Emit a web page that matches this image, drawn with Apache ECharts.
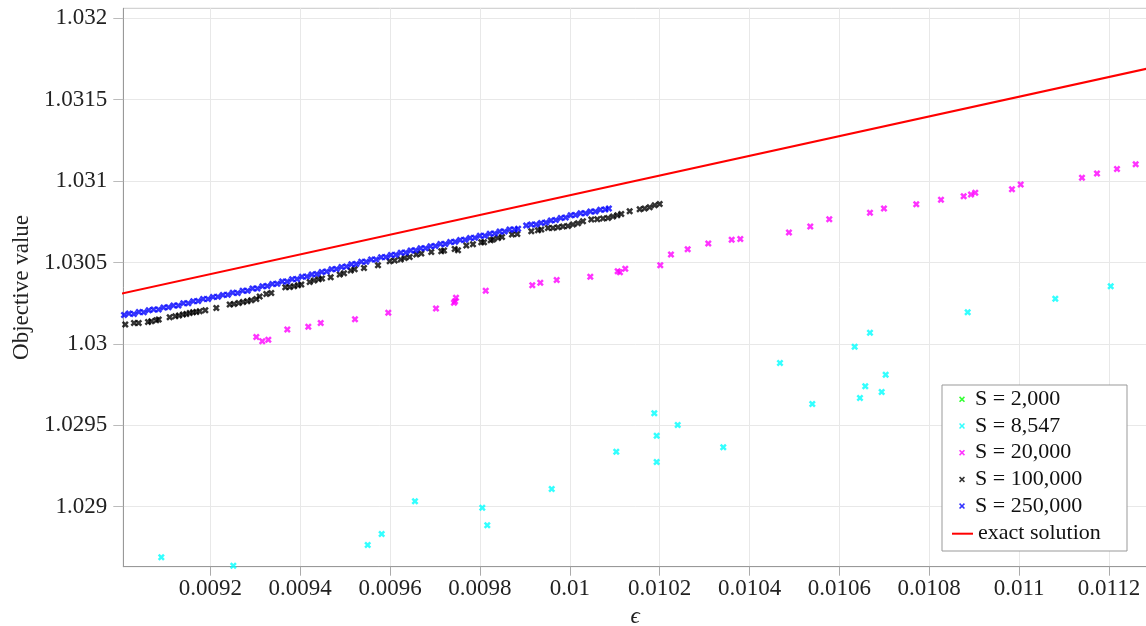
<!DOCTYPE html>
<html><head><meta charset="utf-8">
<script src="https://cdn.jsdelivr.net/npm/echarts@6/dist/echarts.min.js"></script>
<style>html,body{margin:0;padding:0;background:#fff}#c{width:1146px;height:626px}</style>
</head><body><div id="c"></div>
<script>
const seriesNames = ['S = 2,000', 'S = 8,547', 'S = 20,000', 'S = 100,000', 'S = 250,000', 'exact solution'];
const seriesColors = ['#00ff00', '#00ffff', '#ff00ff', '#000000', '#0000ff', '#ff0000'];
const xTicks = [0.0092, 0.0094, 0.0096, 0.0098, 0.01, 0.0102, 0.0104, 0.0106, 0.0108, 0.011, 0.0112];
const yTicks = [1.029, 1.0295, 1.03, 1.0305, 1.031, 1.0315, 1.032];

const s2000 = [];
const s8547 = [[0.009091,1.028689],[0.0092512,1.028638],[0.0095503,1.028765],[0.0095814,1.028833],[0.0096555,1.029033],[0.0098053,1.028994],[0.0098164,1.028886],[0.0099598,1.029109],[0.0101035,1.029337],[0.0101881,1.029574],[0.0101934,1.029435],[0.0101934,1.029275],[0.0102402,1.029502],[0.0103416,1.029365],[0.0104678,1.029883],[0.0105397,1.029631],[0.010634,1.029982],[0.0106681,1.030068],[0.0106458,1.029668],[0.0106576,1.02974],[0.0106941,1.029705],[0.010703,1.02981],[0.0108855,1.030194],[0.0110805,1.030278],[0.0112038,1.030354]];
const s20000 = [[0.0093024,1.030043],[0.0093157,1.030016],[0.0093291,1.030026],[0.0093714,1.030088],[0.0094181,1.030106],[0.0094457,1.030129],[0.009522,1.030151],[0.0095961,1.030191],[0.0097023,1.030217],[0.0097423,1.030252],[0.0097446,1.030262],[0.0097468,1.030283],[0.0098129,1.030327],[0.0099166,1.03036],[0.0099344,1.030375],[0.0099709,1.030393],[0.0100457,1.030413],[0.0101066,1.030446],[0.0101117,1.03044],[0.0101235,1.030461],[0.0102014,1.030483],[0.0102252,1.030549],[0.0102624,1.030581],[0.0103082,1.030616],[0.0103603,1.030639],[0.0103795,1.030645],[0.0104878,1.030684],[0.0105352,1.030721],[0.0105775,1.030765],[0.0106681,1.030805],[0.0106992,1.030831],[0.0107711,1.030857],[0.0108261,1.030885],[0.0108766,1.030907],[0.0108929,1.030917],[0.0109024,1.030928],[0.0109841,1.03095],[0.0110035,1.030979],[0.0111399,1.03102],[0.0111733,1.031046],[0.0112178,1.031075],[0.0112594,1.031103]];
const s100000 = [[0.0090108,1.0301186],[0.0090302,1.030129],[0.0090407,1.030129],[0.0090614,1.0301351],[0.0090687,1.0301388],[0.0090798,1.030145],[0.0090852,1.0301493],[0.0091096,1.0301634],[0.0091221,1.0301695],[0.0091303,1.0301738],[0.0091392,1.03018],[0.0091466,1.0301843],[0.0091542,1.0301904],[0.0091615,1.0301941],[0.0091688,1.0301966],[0.0091764,1.0302002],[0.0091889,1.0302064],[0.0092134,1.0302211],[0.0092432,1.0302414],[0.0092527,1.0302457],[0.0092632,1.0302518],[0.0092728,1.030258],[0.0092823,1.0302617],[0.0092912,1.0302678],[0.0093024,1.0302764],[0.0093099,1.0302905],[0.0093246,1.0303071],[0.0093357,1.0303133],[0.0093669,1.0303477],[0.0093767,1.0303501],[0.0093863,1.0303538],[0.0093952,1.0303599],[0.0094025,1.0303642],[0.0094212,1.0303808],[0.0094308,1.0303888],[0.0094412,1.0303968],[0.0094486,1.0304011],[0.0094679,1.0304091],[0.009488,1.0304257],[0.0094975,1.0304337],[0.0095124,1.0304502],[0.0095213,1.0304582],[0.009542,1.0304668],[0.0095732,1.0304828],[0.0095992,1.0305074],[0.0096104,1.0305117],[0.0096237,1.0305178],[0.0096326,1.0305283],[0.0096437,1.0305344],[0.0096584,1.0305485],[0.0096696,1.0305547],[0.0096918,1.0305651],[0.0097141,1.0305688],[0.0097201,1.0305731],[0.0097439,1.0305835],[0.0097512,1.0305749],[0.0097697,1.0306038],[0.0097846,1.0306118],[0.0098031,1.0306241],[0.0098091,1.0306241],[0.009824,1.0306364],[0.0098291,1.0306407],[0.0098402,1.0306511],[0.0098492,1.0306572],[0.0098714,1.0306714],[0.0098832,1.0306757],[0.0099144,1.0306917],[0.0099293,1.0306978],[0.0099366,1.0307021],[0.0099515,1.0307125],[0.0099626,1.0307125],[0.0099738,1.0307162],[0.0099849,1.0307205],[0.009996,1.0307248],[0.0100071,1.0307328],[0.0100183,1.0307408],[0.0100294,1.030753],[0.0100479,1.0307635],[0.0100612,1.0307653],[0.0100739,1.0307697],[0.0100851,1.030774],[0.0100962,1.030782],[0.0101057,1.0307899],[0.0101146,1.0307985],[0.0101333,1.0308145],[0.0101556,1.0308268],[0.0101667,1.0308311],[0.0101778,1.0308391],[0.010189,1.0308514],[0.0102001,1.03086]];
const s250000 = [[0.009008,1.030178],[0.009019,1.030186],[0.00903,1.030184],[0.009041,1.030196],[0.009052,1.030195],[0.009063,1.030206],[0.009074,1.030211],[0.009085,1.030212],[0.009096,1.030224],[0.009107,1.030225],[0.009118,1.030236],[0.009129,1.030236],[0.00914,1.030249],[0.009151,1.03025],[0.009162,1.030262],[0.009173,1.030263],[0.009184,1.030275],[0.009195,1.030276],[0.009206,1.030288],[0.009217,1.030289],[0.009228,1.030301],[0.009239,1.030302],[0.00925,1.030314],[0.009261,1.030313],[0.009272,1.030327],[0.009283,1.030326],[0.009294,1.03034],[0.009305,1.030341],[0.009316,1.030354],[0.009327,1.030355],[0.009338,1.030368],[0.009349,1.030369],[0.00936,1.030383],[0.009371,1.030384],[0.009382,1.030397],[0.009393,1.030399],[0.009404,1.030412],[0.009415,1.030414],[0.009426,1.030427],[0.009437,1.030429],[0.009448,1.030442],[0.009459,1.030445],[0.00947,1.030458],[0.009481,1.03046],[0.009492,1.030473],[0.009503,1.030476],[0.009514,1.030489],[0.009525,1.030491],[0.009536,1.030504],[0.009547,1.030505],[0.009558,1.030518],[0.009569,1.030519],[0.00958,1.030532],[0.009591,1.030533],[0.009602,1.030546],[0.009613,1.030547],[0.009624,1.03056],[0.009635,1.030561],[0.009646,1.030574],[0.009657,1.030575],[0.009668,1.030587],[0.009679,1.030588],[0.00969,1.0306],[0.009701,1.030602],[0.009712,1.030614],[0.009723,1.030614],[0.009734,1.030626],[0.009745,1.030627],[0.009756,1.030638],[0.009767,1.030639],[0.009778,1.030651],[0.009789,1.030652],[0.0098,1.030664],[0.009811,1.030665],[0.009822,1.030677],[0.009833,1.030678],[0.009844,1.03069],[0.009855,1.03069],[0.009866,1.030702],[0.009877,1.030702],[0.009885,1.030708],[0.009903,1.030727],[0.009914,1.030734],[0.009925,1.030733],[0.009936,1.030742],[0.009947,1.030745],[0.009958,1.030758],[0.009969,1.030761],[0.00998,1.030774],[0.009991,1.030777],[0.010002,1.03079],[0.010013,1.030791],[0.010024,1.030802],[0.010035,1.030802],[0.010046,1.030813],[0.010057,1.030814],[0.010068,1.030824],[0.010079,1.030825],[0.010087,1.030831]];
const exactEps = [0.009, 0.0113];
const exactVal = [1.030308, 1.0317];

const xSym = 'path://M0,2.5L2.5,0L5,2.5L7.5,0L10,2.5L7.5,5L10,7.5L7.5,10L5,7.5L2.5,10L0,7.5L2.5,5Z';
const legendX = 'path://M0,0L0.01,0L0,0.01Z M16,7L15.99,7L16,6.99Z M5,1.6L6.1,0.5L8,2.4L9.9,0.5L11,1.6L9.1,3.5L11,5.4L9.9,6.5L8,4.6L6.1,6.5L5,5.4L6.9,3.5Z';
const legendLine = 'path://M0,0L21,0L21,2L0,2Z';
const FONT = 'Liberation Serif';
const fmt = v => String(+v.toFixed(4));

const scatterSets = [s2000, s8547, s20000, s100000, s250000];
const series = scatterSets.map((d, i) => ({
  name: seriesNames[i], type: 'scatter', data: d, symbol: xSym, symbolSize: 7,
  itemStyle: {color: seriesColors[i]}, z: 2, animation: false
}));
series.push({
  name: seriesNames[5], type: 'line', data: exactEps.map((e, i) => [e, exactVal[i]]),
  symbol: 'none', showSymbol: false, lineStyle: {color: seriesColors[5], width: 2}, itemStyle: {color: seriesColors[5]}, z: 3, animation: false
});

const chart = echarts.init(document.getElementById('c'), null, {renderer: 'canvas'});
chart.setOption({
  animation: false,
  backgroundColor: '#fff',
  grid: {left: 123.3, top: 8.3, right: -1, bottom: 59.3, containLabel: false, outerBoundsMode: 'none',
    show: true, borderColor: '#c8c8c8', borderWidth: 1, backgroundColor: 'transparent'},
  xAxis: {
    type: 'value', min: 0.0090064, max: 0.0112846,
    name: 'ϵ', nameLocation: 'middle', nameGap: 38,
    nameTextStyle: {fontFamily: FONT, fontSize: 23, fontStyle: 'italic', color: '#222'},
    axisLine: {show: true, onZero: false, lineStyle: {color: '#999', width: 1}},
    axisTick: {show: true, inside: false, length: 9, customValues: xTicks, lineStyle: {color: '#aaa'}},
    axisLabel: {customValues: xTicks, formatter: fmt, fontFamily: FONT, fontSize: 23, color: '#222', margin: 11},
    splitLine: {show: true, lineStyle: {color: '#e8e8e8', width: 1}}
  },
  yAxis: {
    type: 'value', min: 1.0286314, max: 1.0320614,
    name: 'Objective value', nameLocation: 'middle', nameGap: 85,
    nameTextStyle: {fontFamily: FONT, fontSize: 23, color: '#222'},
    axisLine: {show: true, onZero: false, lineStyle: {color: '#999', width: 1}},
    axisTick: {show: true, inside: false, length: 10, customValues: yTicks, lineStyle: {color: '#bbb'}},
    axisLabel: {customValues: yTicks, formatter: fmt, fontFamily: FONT, fontSize: 23, color: '#222', margin: 16},
    splitLine: {show: true, lineStyle: {color: '#e8e8e8', width: 1}}
  },
  graphic: [{
    type: 'rect', z: 10, left: 941.5, top: 384.5,
    shape: {x: 0, y: 0, width: 185, height: 166},
    style: {fill: '#fff', stroke: '#999', lineWidth: 1}
  }],
  legend: [{
    z: 20, left: 954, top: 388.3, orient: 'vertical', itemWidth: 16, itemHeight: 7, itemGap: 4.7,
    padding: 0, icon: legendX, selectedMode: false,
    data: seriesNames.slice(0, 5),
    textStyle: {fontFamily: FONT, fontSize: 22, lineHeight: 22, color: '#111', padding: 0}
  }, {
    z: 20, left: 952, top: 522.7, orient: 'vertical', itemWidth: 21, itemHeight: 2, itemGap: 0,
    padding: 0, selectedMode: false,
    data: [{name: seriesNames[5], icon: legendLine}],
    textStyle: {fontFamily: FONT, fontSize: 22, lineHeight: 22, color: '#111', padding: 0}
  }],
  series: series
});
</script>
</body></html>
